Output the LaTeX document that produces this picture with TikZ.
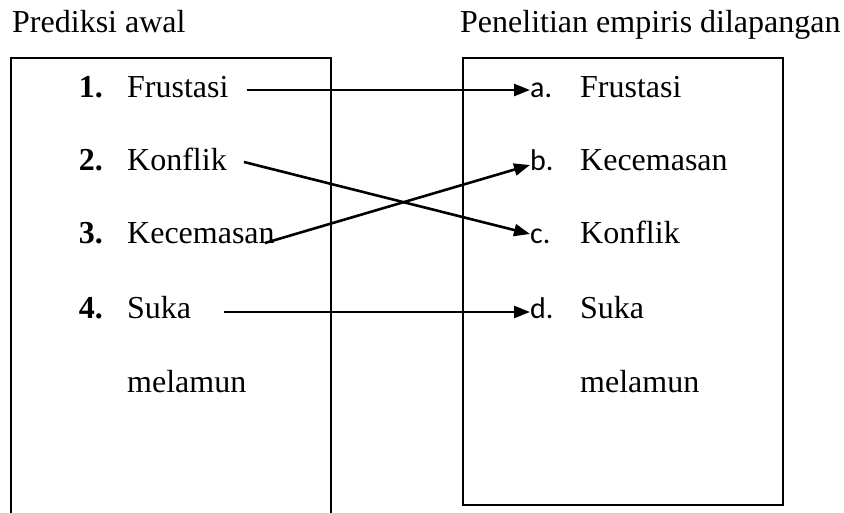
\documentclass[tikz,border=0pt]{standalone}
\usepackage{fontspec}
\setmainfont{Liberation Serif}
\newfontfamily\hurufsans{Carlito}
\usetikzlibrary{arrows.meta, positioning}

\begin{document}
\begin{tikzpicture}[x=1pt, y=-1pt, font=\fontsize{32}{38}\selectfont,
  teks/.style={inner sep=0pt, anchor=base west},
  nomor/.style={inner sep=0pt, anchor=base east, font=\fontsize{32}{38}\selectfont\bfseries},
  huruf/.style={inner sep=0pt, anchor=base west, font=\fontsize{30}{36}\selectfont\hurufsans},
  panah/.style={line width=2.6pt, -{Triangle[length=16pt, width=12pt]}}]

  % area of the picture
  \useasboundingbox (0,0) rectangle (844,513);

  % titles
  \node[teks] (judulkiri) at (12,33) {Prediksi awal};
  \node[teks] (judulkanan) at (460,33) {Penelitian empiris dilapangan};

  % boxes (left one runs off the bottom)
  \draw[line width=1.8pt] (11,514) -- (11,58) -- (331,58) -- (331,514);
  \draw[line width=1.8pt] (463,58) rectangle (783,505);

  % left list
  \node[nomor] (n1) at (103,98) {1.};
  \node[teks] (kiri1) at (127,98) {Frustasi};
  \node[nomor] (n2) at (103,171) {2.};
  \node[teks] (kiri2) at (127,171) {Konflik};
  \node[nomor] (n3) at (103,244) {3.};
  \node[teks] (kiri3) at (127,244) {Kecemasan};
  \node[nomor] (n4) at (103,319) {4.};
  \node[teks] (kiri4) at (127,319) {Suka};
  \node[teks] (kiri5) at (127,392) {melamun};

  % right list
  \node[huruf] (a) at (530,98) {a.};
  \node[teks] (kanan1) at (580,98) {Frustasi};
  \node[huruf] (b) at (530,171) {b.};
  \node[teks] (kanan2) at (580,171) {Kecemasan};
  \node[huruf] (c) at (530,244) {c.};
  \node[teks] (kanan3) at (580,244) {Konflik};
  \node[huruf] (d) at (530,319) {d.};
  \node[teks] (kanan4) at (580,319) {Suka};
  \node[teks] (kanan5) at (580,392) {melamun};

  % arrows
  \draw[panah] ([xshift=18pt, yshift=8pt]kiri1.base east) -- ([yshift=8pt]a.base west);
  \draw[panah] ([xshift=17pt, yshift=9pt]kiri2.base east) -- ([yshift=10pt]c.base west);
  \draw[panah] ([xshift=-10pt, yshift=1pt]kiri3.base east) -- ([yshift=6pt]b.base west);
  \draw[panah] ([xshift=33pt, yshift=7pt]kiri4.base east) -- ([yshift=7pt]d.base west);

\end{tikzpicture}
\end{document}
